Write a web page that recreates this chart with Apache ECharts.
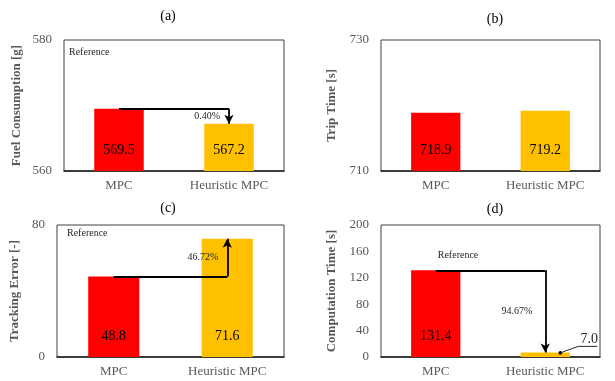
<!DOCTYPE html>
<html>
<head>
<meta charset="utf-8">
<script src="https://cdn.jsdelivr.net/npm/echarts@6/dist/echarts.min.js"></script>
<style>
  html, body { margin: 0; padding: 0; background: #fff; }
  #chart { width: 615px; height: 381px; }
</style>
</head>
<body>
<div id="chart"></div>
<script>
// Categories shared by all four panels
const categories = ['MPC', 'Heuristic MPC'];

// Panel values
const fuel = [569.5, 567.2];        // (a) Fuel Consumption [g]
const trip = [718.9, 719.2];        // (b) Trip Time [s]
const tracking = [48.8, 71.6];      // (c) Tracking Error [-]
const compTime = [131.4, 7.0];      // (d) Computation Time [s]

// Axis tick labels
const fuelTicks = [560, 580];
const tripTicks = [710, 730];
const trackTicks = [0, 80];
const compTicks = [0, 40, 80, 120, 160, 200];

// Relative change versus the MPC reference
const changeLabels = ['0.40%', null, '46.72%', '94.67%'];
const panelTitles = ['(a)', '(b)', '(c)', '(d)'];
const axisNames = ['Fuel Consumption [g]', 'Trip Time [s]', 'Tracking Error [-]', 'Computation Time [s]'];

const SERIF = 'Liberation Serif';
const BAR_COLORS = ['#FF0000', '#FFC000'];

const panels = [
  { values: fuel, ticks: fuelTicks, grid: { left: 64, top: 40, width: 220, height: 131 }, nameGap: 41 },
  { values: trip, ticks: tripTicks, grid: { left: 381, top: 40, width: 219, height: 131 }, nameGap: 43 },
  { values: tracking, ticks: trackTicks, grid: { left: 57, top: 225, width: 227, height: 132 }, nameGap: 36 },
  { values: compTime, ticks: compTicks, grid: { left: 381, top: 225, width: 219, height: 132 }, nameGap: 43 }
];

const titlePos = [[163, 4], [490, 7], [163, 196], [490, 197]];

const chart = echarts.init(document.getElementById('chart'), null, { renderer: 'canvas' });

const option = {
  backgroundColor: '#ffffff',
  animation: false,
  textStyle: { fontFamily: SERIF },
  title: panelTitles.map((t, i) => ({
    text: t,
    left: titlePos[i][0],
    top: titlePos[i][1],
    textAlign: 'center',
    textStyle: { fontFamily: SERIF, fontSize: 14, fontWeight: 'normal', color: '#000' }
  })),
  grid: panels.map(p => Object.assign({
    show: true, borderColor: '#404040', borderWidth: 1, backgroundColor: '#fff'
  }, p.grid)),
  xAxis: panels.map((p, i) => ({
    type: 'category',
    gridIndex: i,
    data: categories,
    axisLine: { show: true, lineStyle: { color: '#1a1a1a', width: 1.5 } },
    axisTick: { show: false },
    axisLabel: { fontFamily: SERIF, fontSize: 13, color: '#595959', margin: 8 }
  })),
  yAxis: panels.map((p, i) => ({
    type: 'value',
    gridIndex: i,
    min: p.ticks[0],
    max: p.ticks[p.ticks.length - 1],
    name: axisNames[i],
    nameLocation: 'middle',
    nameGap: p.nameGap,
    nameTextStyle: { fontFamily: SERIF, fontSize: 13, fontWeight: 'bold', color: '#595959' },
    axisLine: { show: false },
    axisTick: { show: false },
    splitLine: { show: false },
    axisLabel: {
      fontFamily: SERIF, fontSize: 13, color: '#595959', margin: 12,
      customValues: p.ticks
    }
  })),
  series: panels.map((p, i) => {
    const v = p.values;
    const s = {
      type: 'bar',
      xAxisIndex: i,
      yAxisIndex: i,
      barWidth: '45%',
      data: v.map((val, k) => ({
        value: val,
        itemStyle: { color: BAR_COLORS[k] },
        label: (i === 3 && k === 1) ? { show: false } : undefined
      })),
      label: {
        show: true,
        position: 'insideBottom',
        distance: 14,
        fontFamily: SERIF,
        fontSize: 14,
        color: '#000',
        textBorderWidth: 0,
        formatter: d => d.value.toFixed(1)
      }
    };
    if (changeLabels[i]) {
      // Elbow arrow from the MPC reference level to the heuristic result
      s.markLine = {
        silent: true,
        symbol: ['none', 'none'],
        lineStyle: { color: '#000', width: 1.8, type: 'solid' },
        label: { show: false },
        data: [
          [{ coord: [0, v[0]] }, { coord: [1, v[0]] }],
          [{ coord: [1, v[0]] }, { coord: [1, v[1]], symbol: 'arrow', symbolSize: [7, 9] }]
        ]
      };
    }
    return s;
  })
};

chart.setOption(option);

// Text annotations placed from data coordinates
function px(i, cat, val) {
  return chart.convertToPixel({ gridIndex: i }, [cat, val]);
}
const graphics = [];
const smallText = (x, y, text, align) => ({
  type: 'text',
  x: x, y: y, z: 100,
  style: {
    text: text, fontFamily: SERIF, fontSize: 10, fill: '#262626',
    align: align || 'left', verticalAlign: 'middle'
  }
});

panels.forEach((p, i) => {
  if (!changeLabels[i]) return;
  const v = p.values;
  const a = px(i, 1, v[0]);
  const b = px(i, 1, v[1]);
  const midY = (a[1] + b[1]) / 2;
  const gap = i === 3 ? 13 : 9;
  graphics.push(smallText(a[0] - gap, midY, changeLabels[i], 'right'));
});

// "Reference" markers
graphics.push(smallText(panels[0].grid.left + 5, panels[0].grid.top + 12, 'Reference'));
graphics.push(smallText(panels[2].grid.left + 10, panels[2].grid.top + 8, 'Reference'));
const refD = px(3, 0, compTime[0]);
graphics.push(smallText(refD[0] + 2, refD[1] - 15, 'Reference'));

// Callout for the small heuristic bar in (d)
const hb = px(3, 1, compTime[1]);
const dot = [hb[0] + 15, hb[1] + 0.5];
const elbow = [hb[0] + 33, hb[1] - 6];
const tail = [hb[0] + 52, hb[1] - 6];
graphics.push({
  type: 'polyline', z: 100,
  shape: { points: [dot, elbow, tail] },
  style: { stroke: '#262626', lineWidth: 1, fill: null }
});
graphics.push({
  type: 'circle', z: 100,
  shape: { cx: dot[0], cy: dot[1], r: 1.8 },
  style: { fill: '#000' }
});
graphics.push({
  type: 'text', z: 100,
  x: hb[0] + 44, y: hb[1] - 13,
  style: {
    text: compTime[1].toFixed(1), fontFamily: SERIF, fontSize: 14, fill: '#262626',
    align: 'center', verticalAlign: 'middle'
  }
});

chart.setOption({ graphic: graphics });
</script>
</body>
</html>
